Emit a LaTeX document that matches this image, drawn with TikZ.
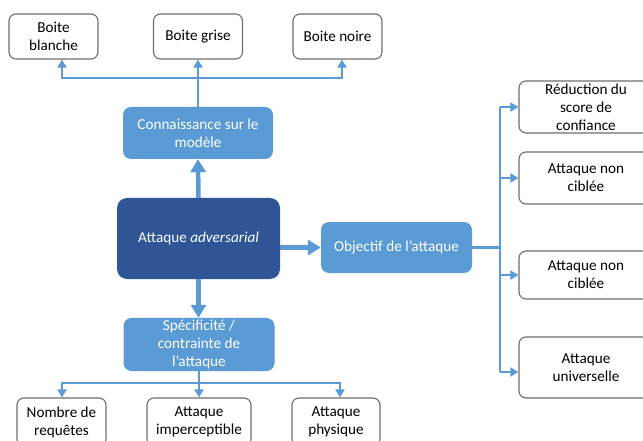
\documentclass[tikz,border=0pt]{standalone}
\usepackage{fontspec}
\setmainfont{Carlito}
\usetikzlibrary{arrows.meta}
\definecolor{midblue}{HTML}{5B9BD5}
\definecolor{darkblue}{HTML}{2F5597}
\definecolor{boxline}{HTML}{6E6E6E}
\tikzset{
  base/.style={rounded corners=7pt, align=center, inner sep=2pt,
    font=\fontsize{15.2}{18}\selectfont},
  whitebox/.style={base, draw=boxline, line width=1.1pt, fill=white, text=black},
  bluebox/.style={base, fill=midblue, text=white, rounded corners=8pt},
  mainbox/.style={base, fill=darkblue, text=white, rounded corners=10pt},
  link/.style={draw=midblue, line width=2.6pt},
  thinarrow/.style={link, -{Triangle[length=8pt,width=9pt]}},
  thickarrow/.style={draw=midblue, line width=4.5pt, -{Triangle[length=13pt,width=15pt]}},
}
\begin{document}
\begin{tikzpicture}[x=1pt,y=-1pt]
\useasboundingbox (0,0) rectangle (643,441);
\clip (0,0) rectangle (643,441);

% central node and the three categories
\node[mainbox, minimum width=163pt, minimum height=81pt] (adv) at (198.5,238.5) {Attaque \textit{adversarial}};
\node[bluebox, minimum width=150pt, minimum height=52pt] (conn) at (198,133) {Connaissance sur le\\modèle};
\node[bluebox, minimum width=151pt, minimum height=51pt] (obj) at (396.5,247.5) {Objectif de l’attaque};
\node[bluebox, minimum width=151pt, minimum height=53pt] (spec) at (199,344.5) {Spécificité /\\contrainte de\\l’attaque};

% knowledge of the model
\node[whitebox, minimum width=89pt, minimum height=45pt] (bb) at (53.5,36.5) {Boite\\blanche};
\node[whitebox, minimum width=89pt, minimum height=45pt] (bg) at (198,36.5) {Boite grise};
\node[whitebox, minimum width=89pt, minimum height=45pt] (bn) at (337.5,36.5) {Boite noire};

% constraints
\node[whitebox, minimum width=89pt, minimum height=48pt] (nr) at (61.5,422) {Nombre de\\requêtes};
\node[whitebox, minimum width=104pt, minimum height=48pt] (ai) at (199,422) {Attaque\\imperceptible};
\node[whitebox, minimum width=88pt, minimum height=48pt] (ap) at (336,422) {Attaque\\physique};

% goals
\node[whitebox, minimum width=134pt, minimum height=52pt] (rd) at (586,107) {Réduction du\\score de\\confiance};
\node[whitebox, minimum width=134pt, minimum height=52pt] (nc1) at (586,178) {Attaque non\\ciblée};
\node[whitebox, minimum width=134pt, minimum height=48pt] (nc2) at (586,275) {Attaque non\\ciblée};
\node[whitebox, minimum width=134pt, minimum height=61pt] (au) at (586,367.5) {Attaque\\universelle};

% thick arrows from the central node
\draw[thickarrow] (adv.north) -- (conn.south);
\draw[thickarrow] (adv.south) -- (adv.south |- spec.north);
\draw[thickarrow] (adv.east |- obj.west) -- (obj.west);

% top fan-out
\coordinate (tj) at (198,78);
\draw[thinarrow] (conn.north) -- (bg.south);
\draw[thinarrow] (tj) -| ([xshift=8.5pt]bb.south);
\draw[thinarrow] (tj) -| ([xshift=4.5pt]bn.south);

% bottom fan-out
\coordinate (bj) at (199,383);
\draw[thinarrow] (spec.south) -- (ai.north);
\draw[thinarrow] (bj) -| ([xshift=0.5pt]nr.north);
\draw[thinarrow] (bj) -| ([xshift=4pt]ap.north);

% right fan-out
\coordinate (rj) at (500,247.5);
\coordinate (rtop) at (500,107);
\coordinate (rbot) at (500,372);
\draw[link] (obj.east) -- (rj);
\draw[link] (rtop) -- (rbot);
\draw[thinarrow] (rtop) -- (rd.west);
\draw[thinarrow] (rtop |- nc1.west) -- (nc1.west);
\draw[thinarrow] (rtop |- nc2.west) -- (nc2.west);
\draw[thinarrow] (rbot) -- (rbot -| au.west);
\end{tikzpicture}
\end{document}
